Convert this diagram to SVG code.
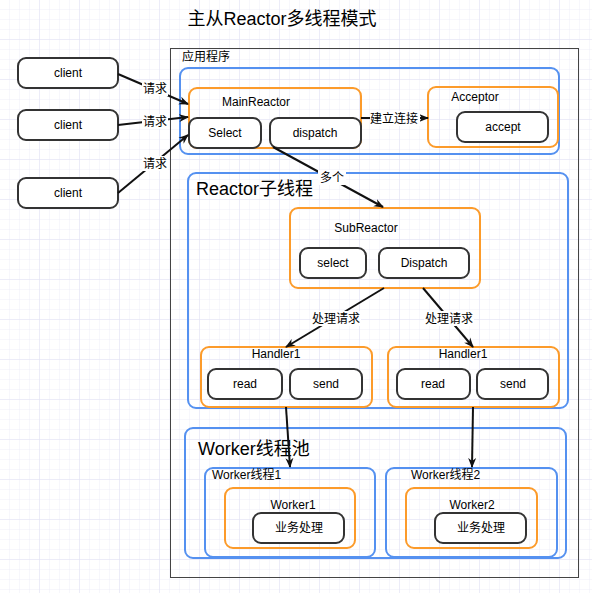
<svg xmlns="http://www.w3.org/2000/svg" width="592" height="593" viewBox="0 0 592 593">
<style>
text{font-family:"Liberation Sans","Noto Sans CJK SC",sans-serif;fill:#000}
.t12{font-size:12px}
.t18{font-size:18px}
.box{fill:#fff;stroke:#333;stroke-width:2}
.org{fill:none;stroke:#fc9b2a;stroke-width:2}
.blu{fill:none;stroke:#5591f0;stroke-width:2}
.app{fill:none;stroke:#444;stroke-width:1}
.con{stroke:#111;stroke-width:2;fill:none;marker-end:url(#arr)}
.lbg{fill:#fff}
</style>
<defs>
<pattern id="minor" width="10" height="10" patternUnits="userSpaceOnUse">
<path d="M10 0V10H0" fill="none" stroke="#eeeef9" stroke-width="1"/>
</pattern>
<pattern id="major" width="40" height="40" patternUnits="userSpaceOnUse">
<rect width="40" height="40" fill="url(#minor)"/>
<path d="M40 0V40H0" fill="none" stroke="#e2e2f4" stroke-width="1"/>
</pattern>
<marker id="arr" viewBox="0 0 10 10" refX="9" refY="5" markerWidth="10" markerHeight="10" markerUnits="userSpaceOnUse" orient="auto">
<path d="M0,1 L10,5 L0,9 L3,5 z" fill="#111"/>
</marker>
</defs>
<rect width="592" height="593" fill="#fff"/>
<rect width="592" height="593" fill="url(#major)"/>

<text id="title" class="t18" x="282" y="25" text-anchor="middle">主从Reactor多线程模式</text>

<g id="clients">
<g id="client1"><rect class="box" x="18" y="58" width="100" height="30" rx="8"/><text class="t12" x="68" y="77" text-anchor="middle">client</text></g>
<g id="client2"><rect class="box" x="18" y="110" width="100" height="30" rx="8"/><text class="t12" x="68" y="129" text-anchor="middle">client</text></g>
<g id="client3"><rect class="box" x="18" y="178" width="100" height="30" rx="8"/><text class="t12" x="68" y="197" text-anchor="middle">client</text></g>
</g>

<g id="app">
<rect class="app" x="170.5" y="48.5" width="408" height="529"/>
<text class="t12" x="182" y="61">应用程序</text>
</g>

<g id="mainGroup">
<rect class="blu" x="180" y="68" width="379" height="86" rx="8"/>
<g id="mainReactor">
<rect class="org" x="189" y="88" width="172" height="60" rx="8"/>
<text class="t12" x="256" y="106" text-anchor="middle">MainReactor</text>
<g id="select"><rect class="box" x="189" y="118" width="72" height="30" rx="8"/><text class="t12" x="225" y="137" text-anchor="middle">Select</text></g>
<g id="dispatch"><rect class="box" x="270" y="118" width="91" height="30" rx="8"/><text class="t12" x="315" y="137" text-anchor="middle">dispatch</text></g>
</g>
<g id="acceptor">
<rect class="org" x="428" y="87" width="130" height="60" rx="8"/>
<text class="t12" x="475" y="101" text-anchor="middle">Acceptor</text>
<g id="accept"><rect class="box" x="457" y="112" width="91" height="30" rx="8"/><text class="t12" x="503" y="131" text-anchor="middle">accept</text></g>
</g>
</g>

<g id="reactorGroup">
<rect class="blu" x="188" y="173" width="380" height="235" rx="8"/>
<text class="t18" x="196" y="195">Reactor子线程</text>
<g id="subReactor">
<rect class="org" x="290" y="208" width="190" height="80" rx="8"/>
<text class="t12" x="366" y="232" text-anchor="middle">SubReactor</text>
<g id="subSelect"><rect class="box" x="300" y="248" width="66" height="30" rx="8"/><text class="t12" x="333" y="267" text-anchor="middle">select</text></g>
<g id="subDispatch"><rect class="box" x="379" y="248" width="90" height="30" rx="8"/><text class="t12" x="424" y="267" text-anchor="middle">Dispatch</text></g>
</g>
<g id="handlerA">
<rect class="org" x="201" y="347" width="171" height="60" rx="8"/>
<text class="t12" x="276" y="358" text-anchor="middle">Handler1</text>
<g id="readA"><rect class="box" x="208" y="369" width="74" height="30" rx="8"/><text class="t12" x="245" y="388" text-anchor="middle">read</text></g>
<g id="sendA"><rect class="box" x="290" y="369" width="72" height="30" rx="8"/><text class="t12" x="326" y="388" text-anchor="middle">send</text></g>
</g>
<g id="handlerB">
<rect class="org" x="388" y="347" width="171" height="60" rx="8"/>
<text class="t12" x="463" y="358" text-anchor="middle">Handler1</text>
<g id="readB"><rect class="box" x="397" y="369" width="73" height="30" rx="8"/><text class="t12" x="433" y="388" text-anchor="middle">read</text></g>
<g id="sendB"><rect class="box" x="477" y="369" width="71" height="30" rx="8"/><text class="t12" x="513" y="388" text-anchor="middle">send</text></g>
</g>
</g>

<g id="workerGroup">
<rect class="blu" x="185" y="428" width="381" height="130" rx="8"/>
<text class="t18" x="198" y="455">Worker线程池</text>
<g id="workerThread1">
<rect class="blu" x="205" y="468" width="170" height="89" rx="8"/>
<text class="t12" x="212" y="479">Worker线程1</text>
<g id="worker1">
<rect class="org" x="225" y="488" width="130" height="60" rx="8"/>
<text class="t12" x="293" y="509" text-anchor="middle">Worker1</text>
<g id="biz1"><rect class="box" x="253" y="513" width="91" height="30" rx="8"/><text class="t12" x="299" y="532" text-anchor="middle">业务处理</text></g>
</g>
</g>
<g id="workerThread2">
<rect class="blu" x="386" y="468" width="171" height="89" rx="8"/>
<text class="t12" x="411" y="479">Worker线程2</text>
<g id="worker2">
<rect class="org" x="406" y="488" width="131" height="60" rx="8"/>
<text class="t12" x="472" y="509" text-anchor="middle">Worker2</text>
<g id="biz2"><rect class="box" x="435" y="513" width="91" height="30" rx="8"/><text class="t12" x="481" y="532" text-anchor="middle">业务处理</text></g>
</g>
</g>
</g>

<g id="connectors">
<line class="con" x1="118" y1="74" x2="188" y2="104"/>
<line class="con" x1="118" y1="125" x2="188" y2="117"/>
<line class="con" x1="118" y1="193" x2="188" y2="135"/>
<line class="con" x1="361" y1="118" x2="428" y2="118"/>
<line class="con" x1="273" y1="147" x2="383" y2="207"/>
<line class="con" x1="384" y1="288" x2="286" y2="347"/>
<line class="con" x1="423" y1="288" x2="473" y2="347"/>
<line class="con" x1="286" y1="407" x2="290" y2="467"/>
<line class="con" x1="473" y1="407" x2="472" y2="467"/>
<g id="labels">
<rect class="lbg" x="142" y="81" width="26" height="15"/><text class="t12" x="155" y="93" text-anchor="middle">请求</text>
<rect class="lbg" x="142" y="114" width="26" height="15"/><text class="t12" x="155" y="126" text-anchor="middle">请求</text>
<rect class="lbg" x="142" y="156" width="26" height="15"/><text class="t12" x="155" y="168" text-anchor="middle">请求</text>
<rect class="lbg" x="370" y="111" width="50" height="15"/><text class="t12" x="394" y="123" text-anchor="middle">建立连接</text>
<rect class="lbg" x="318" y="170" width="28" height="15"/><text class="t12" x="332" y="182" text-anchor="middle">多个</text>
<rect class="lbg" x="311" y="311" width="50" height="15"/><text class="t12" x="336" y="323" text-anchor="middle">处理请求</text>
<rect class="lbg" x="424" y="311" width="50" height="15"/><text class="t12" x="449" y="323" text-anchor="middle">处理请求</text>
</g>
</g>
</svg>
